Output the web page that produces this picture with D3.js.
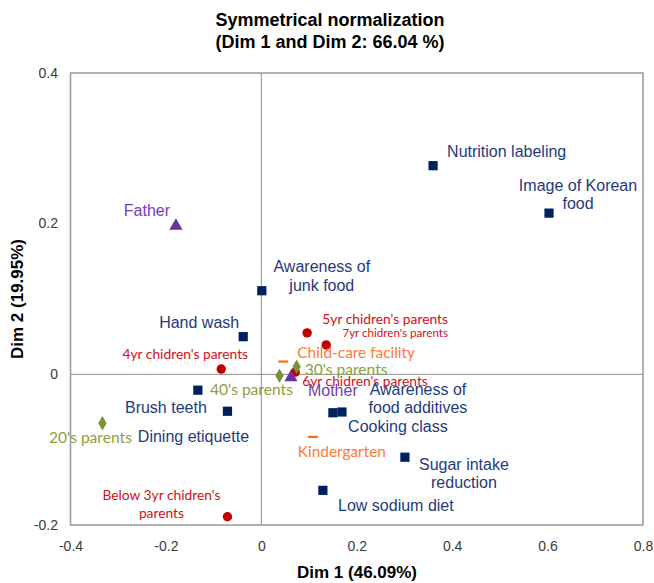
<!DOCTYPE html>
<html><head><meta charset="utf-8">
<script src="https://cdn.jsdelivr.net/npm/d3@7/dist/d3.min.js"></script>
<style>body{margin:0;background:#fff}svg{display:block}</style>
</head><body><svg id="c" width="654" height="583"></svg>
<script>
// ---- data ----
const names = [
  "Nutrition labeling","Image of Korean\nfood","Awareness of\njunk food","Hand wash","Brush teeth","Dining etiquette",
  "Awareness of\nfood additives","Cooking class","Sugar intake\nreduction","Low sodium diet",
  "5yr chidren's parents","7yr chidren's parents","6yr chidren's parents","4yr chidren's parents","Below 3yr chidren's\nparents",
  "40's parents","30's parents","20's parents",
  "Father","Mother",
  "Child-care facility","Kindergarten"
];
const groups = [
  "item","item","item","item","item","item","item","item","item","item",
  "child","child","child","child","child",
  "age","age","age",
  "parent","parent",
  "inst","inst"
];
const dim1 = [0.360,0.603,0.001,-0.038,-0.133,-0.071,0.169,0.150,0.301,0.129,
  0.096,0.136,0.071,-0.084,-0.071,
  0.038,0.074,-0.333,
  -0.179,0.062,
  0.046,0.108];
const dim2 = [0.277,0.214,0.111,0.050,-0.021,-0.049,-0.050,-0.051,-0.110,-0.154,
  0.055,0.039,0.003,0.007,-0.189,
  -0.002,0.010,-0.065,
  0.197,-0.004,
  0.017,-0.083];
const xTicks = [-0.4,-0.2,0,0.2,0.4,0.6,0.8];
const yTicks = [-0.2,0,0.2,0.4];
const titleLines = ["Symmetrical normalization","(Dim 1 and Dim 2: 66.04 %)"];
const xTitle = "Dim 1 (46.09%)";
const yTitle = "Dim 2 (19.95%)";

// ---- layout (label offsets in px: dx, dy of first line center, anchor) ----
const labelPos = [
  [14,-14,"start"],[29,-28,"middle"],[60,-24,"middle"],[-4,-14,"end"],[-32,17,"middle"],[-34,25,"middle"],
  [76,-23,"middle"],[65,14,"middle"],[59,7,"middle"],[73,15,"middle"],
  [78,-14,"middle"],[69,-12,"middle"],[7,9,"start"],[-36,-15,"middle"],[-66,-22,"middle"],
  [-28,14,"middle"],[8,3,"start"],[-12,14,"middle"],
  [-29,-16,"middle"],[17,13,"start"],
  [14,-9,"start"],[29,15,"middle"]
];
const style = {
  item:  {mark:"#002060", text:"#1F3A7A", font:"'Liberation Sans', Arial, sans-serif", size:16},
  child: {mark:"#C00000", text:"#D0101A", font:"Lato, 'Open Sans', sans-serif", size:13.8},
  age:   {mark:"#77933C", text:"#8DA03C", font:"Lato, 'Open Sans', sans-serif", size:15.6},
  parent:{mark:"#7030A0", text:"#7A3CB0", font:"'Liberation Sans', Arial, sans-serif", size:16},
  inst:  {mark:"#FF6A10", text:"#FF7A30", font:"Lato, 'Open Sans', sans-serif", size:15.4}
};
const sizeOverride = {"7yr chidren's parents":11.6};
const lineGap = {item:18.5, child:18, parent:18};

const svg = d3.select("#c");
const x = d3.scaleLinear().domain([-0.4,0.8]).range([70.5,643]);
const y = d3.scaleLinear().domain([-0.2,0.4]).range([525,73]);
const fmt = d => d===0 ? "0" : d3.format(".1f")(d).replace("\u2212","-");

// frame
svg.append("rect").attr("x",70.5).attr("y",73).attr("width",572.5).attr("height",452)
  .attr("fill","none").attr("stroke","#999").attr("stroke-width",1.5);
// zero lines
svg.append("line").attr("x1",x(0)).attr("x2",x(0)).attr("y1",73).attr("y2",525).attr("stroke","#8c8c8c").attr("stroke-width",1);
svg.append("line").attr("x1",70.5).attr("x2",643).attr("y1",y(0)).attr("y2",y(0)).attr("stroke","#8c8c8c").attr("stroke-width",1);

// axes (tick labels only)
const xa = svg.append("g").attr("transform","translate(0,538)")
  .call(d3.axisBottom(x).tickValues(xTicks).tickSize(0).tickPadding(3).tickFormat(fmt));
xa.select(".domain").remove();
xa.selectAll("text").attr("font-family","'Liberation Sans', Arial, sans-serif").attr("font-size",14).attr("fill","#3a3a3a");
const ya = svg.append("g").attr("transform","translate(58,0)")
  .call(d3.axisLeft(y).tickValues(yTicks).tickSize(0).tickPadding(0).tickFormat(fmt));
ya.select(".domain").remove();
ya.selectAll("text").attr("font-family","'Liberation Sans', Arial, sans-serif").attr("font-size",14).attr("fill","#3a3a3a").attr("dy","0.3em");

// titles
const bold = "'Liberation Sans', Arial, sans-serif";
svg.append("text").attr("x",330).attr("y",26).attr("text-anchor","middle")
  .attr("font-family",bold).attr("font-weight","bold").attr("font-size",18).text(titleLines[0]);
svg.append("text").attr("x",330).attr("y",48).attr("text-anchor","middle")
  .attr("font-family",bold).attr("font-weight","bold").attr("font-size",18).text(titleLines[1]);
svg.append("text").attr("x",357).attr("y",578).attr("text-anchor","middle")
  .attr("font-family",bold).attr("font-weight","bold").attr("font-size",17).text(xTitle);
svg.append("text").attr("transform","translate(23,299) rotate(-90)").attr("text-anchor","middle")
  .attr("font-family",bold).attr("font-weight","bold").attr("font-size",17).text(yTitle);

// marks
const data = names.map((n,i)=>({name:n, g:groups[i], d1:dim1[i], d2:dim2[i], lp:labelPos[i]}));
const sym = {item:d3.symbolSquare, child:d3.symbolCircle, age:d3.symbolDiamond, parent:d3.symbolTriangle};
const symSize = {item:85, child:70, age:60, parent:75};
data.forEach(d=>{
  const px = x(d.d1), py = y(d.d2), st = style[d.g];
  if (d.g==="inst") {
    svg.append("line").attr("x1",px-5).attr("x2",px+5).attr("y1",py).attr("y2",py)
      .attr("stroke",st.mark).attr("stroke-width",2.2);
  } else {
    svg.append("path").attr("transform",`translate(${px},${py})`)
      .attr("d",d3.symbol().type(sym[d.g]).size(symSize[d.g])()).attr("fill",st.mark);
  }
});
// labels
data.forEach(d=>{
  const px = x(d.d1), py = y(d.d2), st = style[d.g];
  const fs = sizeOverride[d.name] || st.size;
  const lines = d.name.split("\n");
  const gap = lineGap[d.g] || fs*1.2;
  const t = svg.append("text").attr("text-anchor",d.lp[2])
    .attr("font-family",st.font).attr("font-size",fs).attr("fill",st.text);
  lines.forEach((ln,k)=>{
    t.append("tspan").attr("x",px+d.lp[0]).attr("y",py+d.lp[1]+k*gap).attr("dy","0.35em").text(ln);
  });
});
</script></body></html>
